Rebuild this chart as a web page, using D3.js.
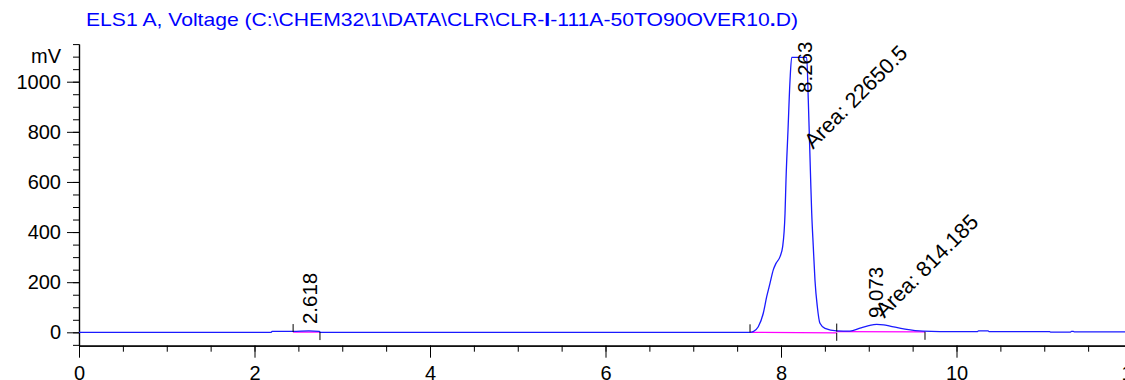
<!DOCTYPE html>
<html lang="en">
<head>
<meta charset="UTF-8">
<title>ELS1 A chromatogram</title>
<script src="https://d3js.org/d3.v7.min.js"></script>
<style>
    body { margin: 0; background: #fff; }
    svg text { font-family: "Liberation Sans", Arial, sans-serif; }
</style>
</head>
<body>
<svg id="chart" width="1125" height="380"></svg>
<script>
// signal trace (min, mV)
const times = [0, 2.19, 2.2, 2.44, 2.62, 2.74, 2.75, 7.6, 7.647, 7.684, 7.741, 7.798, 7.837, 7.875,
    7.912, 7.943, 7.989, 8.019, 8.046, 8.057, 8.08, 8.103, 8.122, 8.293, 8.311, 8.338, 8.35,
    8.368, 8.387, 8.414, 8.444, 8.501, 8.635, 8.786, 8.9, 9.0, 9.09, 9.17, 9.242, 9.413, 9.62,
    10.0, 10.24, 10.25, 10.36, 10.37, 11.06, 11.07, 11.3, 11.31, 11.33, 11.34, 12];
const signal = [0, 0, 4, 4, 6, 4, 0, 0, 0, 3, 22, 76, 142, 196,
    249, 275, 302, 342, 475, 608, 808, 1007, 1097, 1097, 927, 608, 476,
    342, 209, 102, 36, 16, 6, 5, 17, 27, 32, 30, 25, 13, 5,
    3, 3, 6, 6, 3, 3, 1, 1, 4, 4, 2, 2];

// integration baselines
const baseStart = [2.44, 7.647, 8.635];
const baseEnd = [2.746, 8.635, 9.641];
const baseStartVal = [1, 0, 3];
const baseEndVal = [1, -2, 2];

// peak annotations
const peakRT = [2.618, 8.263, 9.073];
const peakLabelAt = [33, 955, 57];
const peakArea = [null, "22650.5", "814.185"];
const areaLabelAt = [null, 728, 54];

const xTicks = [0, 2, 4, 6, 8, 10, 12];
const xMinor = d3.range(0, 12.01, 0.5);
const yTicks = [0, 200, 400, 600, 800, 1000];
const yMinor = d3.range(-50, 1151, 50);

const svg = d3.select("#chart");

const x = d3.scaleLinear().domain([0, 12]).range([79, 1132]);
const y = d3.scaleLinear().domain([-53, 1150]).range([345.6, 44.1]);

// title
const title = svg.append("text")
    .attr("x", 86).attr("y", 26)
    .attr("font-size", 19)
    .attr("textLength", 712)
    .attr("lengthAdjust", "spacingAndGlyphs")
    .attr("fill", "#0000ff");
title.append("tspan").text("ELS1 A, Voltage (C:\\CHEM32\\1\\DATA\\CLR\\CLR-");
title.append("tspan").attr("font-weight", "bold").text("I");
title.append("tspan").text("-111A-50TO90OVER10");
title.append("tspan").attr("font-weight", "bold").text(".");
title.append("tspan").text("D)");

// y axis
svg.append("g")
    .attr("transform", "translate(79,0)")
    .call(d3.axisLeft(y).tickValues(yMinor).tickSize(6).tickSizeOuter(0).tickFormat(""));
const yAxis = svg.append("g")
    .attr("transform", "translate(79,0)")
    .call(d3.axisLeft(y).tickValues(yTicks).tickSize(12).tickSizeOuter(0).tickPadding(6)
        .tickFormat(d3.format("d")));
yAxis.selectAll("text").attr("font-size", 20).attr("fill", "#000");

svg.append("text")
    .attr("x", 61).attr("y", y(1100)).attr("dy", "0.32em")
    .attr("text-anchor", "end").attr("font-size", 20)
    .text("mV");

// x axis
svg.append("g")
    .attr("transform", "translate(0,345.7)")
    .call(d3.axisBottom(x).tickValues(xMinor).tickSize(6).tickSizeOuter(0).tickFormat(""));
const xAxis = svg.append("g")
    .attr("transform", "translate(0,345.7)")
    .call(d3.axisBottom(x).tickValues(xTicks).tickSize(12).tickSizeOuter(0).tickPadding(8)
        .tickFormat(d3.format("d")));
xAxis.selectAll("text").attr("font-size", 20).attr("fill", "#000");

svg.selectAll(".domain").attr("stroke", "#000").attr("stroke-width", 1.2);
svg.selectAll(".tick line").attr("stroke", "#000");

// baselines
const bases = baseStart.map((s, i) => ({ s, e: baseEnd[i], v0: baseStartVal[i], v1: baseEndVal[i] }));
svg.selectAll(".base")
    .data(bases)
    .enter().append("line")
    .attr("class", "base")
    .attr("x1", d => x(d.s)).attr("y1", d => y(d.v0))
    .attr("x2", d => x(d.e)).attr("y2", d => y(d.v1))
    .attr("stroke", "#ff00ff").attr("stroke-width", 1.3);

// signal
const line = d3.line()
    .x((d, i) => x(times[i]))
    .y(d => y(d))
    .curve(d3.curveMonotoneX);

svg.append("path")
    .datum(signal)
    .attr("d", line)
    .attr("fill", "none")
    .attr("stroke", "#1a1aff")
    .attr("stroke-width", 1.3);

// start (up) and end (down) markers of integration
svg.selectAll(".startMark")
    .data(bases)
    .enter().append("line")
    .attr("x1", d => x(d.s)).attr("x2", d => x(d.s))
    .attr("y1", d => y(d.v0)).attr("y2", d => y(d.v0) - 8)
    .attr("stroke", "#000").attr("stroke-width", 1);
svg.selectAll(".endMark")
    .data(bases)
    .enter().append("line")
    .attr("x1", d => x(d.e)).attr("x2", d => x(d.e))
    .attr("y1", d => y(d.v1)).attr("y2", d => y(d.v1) + 8)
    .attr("stroke", "#000").attr("stroke-width", 1);

// retention time labels
svg.selectAll(".rt")
    .data(peakRT)
    .enter().append("text")
    .attr("transform", (d, i) => `translate(${x(d) + 8},${y(peakLabelAt[i])}) rotate(-90)`)
    .attr("font-size", 20.5)
    .text(d => d.toFixed(3));

// area labels
const areas = peakRT.map((rt, i) => ({ rt, area: peakArea[i], at: areaLabelAt[i] }))
    .filter(d => d.area !== null);
svg.selectAll(".area")
    .data(areas)
    .enter().append("text")
    .attr("transform", d => `translate(${x(d.rt) + 9},${y(d.at)}) rotate(-45)`)
    .attr("font-size", 21.5)
    .text(d => "Area: " + d.area);
</script>
</body>
</html>
